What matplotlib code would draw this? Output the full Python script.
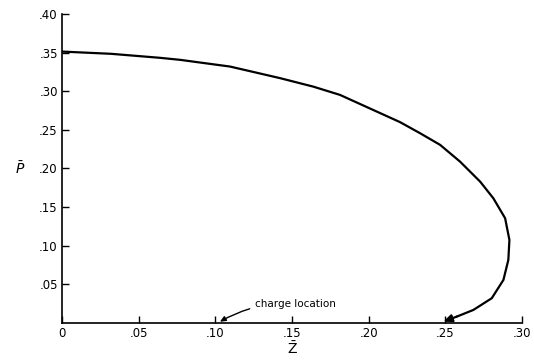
import numpy as np
import matplotlib
matplotlib.use("Agg")
import matplotlib.pyplot as plt

# curve
z = [0.0, 0.032, 0.064, 0.077, 0.1096, 0.1422, 0.1639, 0.1813, 0.2205, 0.2335,
     0.2466, 0.2596, 0.2727, 0.2813, 0.2890, 0.2918, 0.2911, 0.2879, 0.2803,
     0.2683, 0.2575, 0.2487]
p = [0.3514, 0.3485, 0.3433, 0.3407, 0.3320, 0.3170, 0.3060, 0.2953, 0.2600, 0.2457,
     0.2306, 0.2089, 0.1830, 0.1615, 0.1356, 0.1075, 0.0816, 0.0557, 0.0320,
     0.0168, 0.0082, 0.0017]

xticks = [0, 0.05, 0.10, 0.15, 0.20, 0.25, 0.30]
xlabels = ["0", ".05", ".10", ".15", ".20", ".25", ".30"]
yticks = [0.05, 0.10, 0.15, 0.20, 0.25, 0.30, 0.35, 0.40]
ylabels = [".05", ".10", ".15", ".20", ".25", ".30", ".35", ".40"]
charge_z = 0.103

fig = plt.figure(figsize=(5.34, 3.6), dpi=100)
ax = fig.add_axes([0.116, 0.103, 0.8615, 0.858])

ax.plot(z[:-1], p[:-1], color="black", lw=1.6, solid_joinstyle="round",
        solid_capstyle="round")
# end arrow of the curve
ax.annotate("", xy=(z[-1], p[-1]), xytext=(z[-2], p[-2]),
            arrowprops=dict(arrowstyle="-|>,head_length=0.5,head_width=0.22",
                            color="black", lw=1.6, shrinkA=0, shrinkB=0))

# charge location marker
ax.annotate("charge location", xy=(charge_z, 0.0015), xytext=(0.126, 0.025),
            fontsize=7.5, va="center", ha="left",
            arrowprops=dict(arrowstyle="-|>,head_length=0.45,head_width=0.2",
                            color="black", lw=1.0, shrinkA=2, shrinkB=0,
                            connectionstyle="arc3,rad=0.15"))

ax.set_xlim(0, 0.30)
ax.set_ylim(0, 0.40)
ax.set_xticks(xticks)
ax.set_xticklabels(xlabels)
ax.set_yticks(yticks)
ax.set_yticklabels(ylabels)
ax.tick_params(axis="both", direction="in", length=5, width=1.0, labelsize=8.5, pad=3)
ax.spines["top"].set_visible(False)
ax.spines["right"].set_visible(False)
for s in ["left", "bottom"]:
    ax.spines[s].set_linewidth(1.2)

ax.set_xlabel(r"$\bar{\mathrm{Z}}$", fontsize=10, labelpad=0)
ax.set_ylabel(r"$\bar{P}$", fontsize=10, rotation=0, labelpad=14, va="center")

fig.savefig("out.png", dpi=100)
